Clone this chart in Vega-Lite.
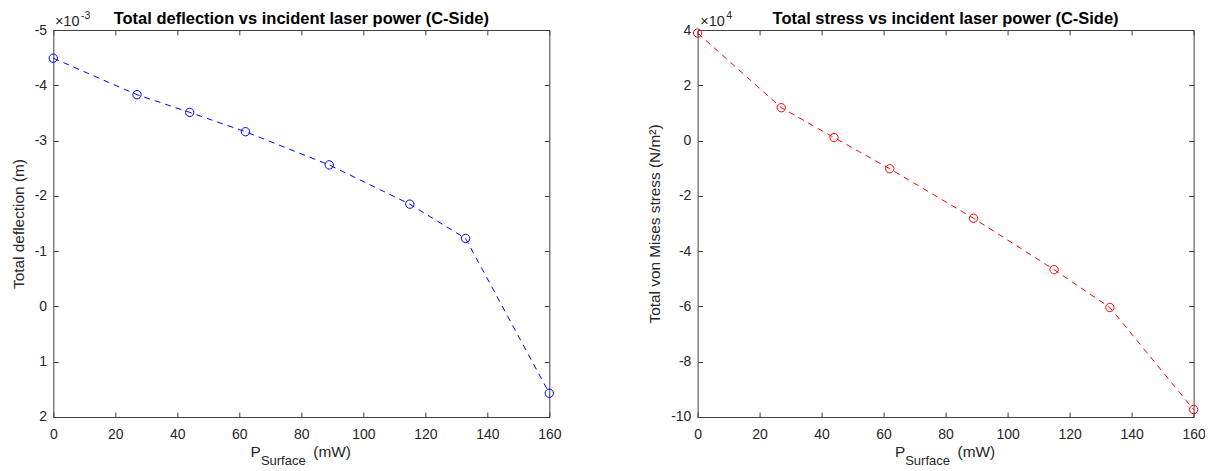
{
  "$schema": "https://vega.github.io/schema/vega-lite/v6.json",
  "background": "white",
  "padding": {"left": 10.3, "top": 10, "right": 0, "bottom": 0},
  "spacing": 86.3,
  "datasets": {
    "runs": [
      {"power": 0, "deflection": -4.49, "stress": 3.89},
      {"power": 27, "deflection": -3.83, "stress": 1.19},
      {"power": 44, "deflection": -3.51, "stress": 0.11},
      {"power": 62, "deflection": -3.16, "stress": -1.02},
      {"power": 89, "deflection": -2.56, "stress": -2.81},
      {"power": 115, "deflection": -1.85, "stress": -4.67},
      {"power": 133, "deflection": -1.23, "stress": -6.04},
      {"power": 160, "deflection": 1.57, "stress": -9.73}
    ],
    "one": [{"k": 1}]
  },
  "config": {
    "view": {"stroke": null},
    "font": "Liberation Sans",
    "axis": {
      "domainColor": "#404040",
      "domainWidth": 1,
      "tickColor": "#404040",
      "tickWidth": 1,
      "tickSize": -5,
      "labelColor": "#262626",
      "labelFont": "Liberation Sans",
      "labelFontSize": 14,
      "labelFlush": false,
      "titleColor": "#262626",
      "titleFont": "Liberation Sans",
      "titleFontSize": 15.4,
      "titleFontWeight": "normal",
      "grid": false,
      "labelExpr": "datum.value < 0 ? '-' + abs(datum.value) : '' + datum.value"
    },
    "axisBottom": {"labelPadding": 16},
    "axisLeft": {"labelPadding": 11.7, "titlePadding": 8},
    "title": {"font": "Liberation Sans", "fontSize": 16.5, "fontWeight": "bold", "color": "#000000", "anchor": "middle", "frame": "group", "baseline": "alphabetic", "offset": -16}
  },
  "hconcat": [
    {
      "width": 496,
      "height": 387,
      "title": "Total deflection vs incident laser power (C-Side)",
      "layer": [
        {
          "data": {"name": "runs"},
          "mark": {"type": "line", "color": "#0000ff", "strokeDash": [6, 5], "strokeWidth": 1},
          "encoding": {
            "x": {"field": "power", "type": "quantitative", "scale": {"domain": [0, 160], "nice": false, "zero": false},
                  "axis": {"orient": "bottom", "values": [0, 20, 40, 60, 80, 100, 120, 140, 160], "title": null}},
            "y": {"field": "deflection", "type": "quantitative", "scale": {"domain": [-5, 2], "reverse": true, "nice": false, "zero": false},
                  "axis": {"orient": "left", "values": [-5, -4, -3, -2, -1, 0, 1, 2], "title": "Total deflection (m)"}}
          }
        },
        {
          "data": {"name": "runs"},
          "mark": {"type": "point", "shape": "circle", "filled": false, "color": "#0000ff", "size": 70, "strokeWidth": 1, "opacity": 1},
          "encoding": {
            "x": {"field": "power", "type": "quantitative",
                  "axis": {"orient": "top", "values": [0, 20, 40, 60, 80, 100, 120, 140, 160], "labels": false, "title": null}},
            "y": {"field": "deflection", "type": "quantitative",
                  "axis": {"orient": "right", "values": [-5, -4, -3, -2, -1, 0, 1, 2], "labels": false, "title": null}}
          }
        },
        {
          "data": {"name": "one"},
          "mark": {"type": "text", "text": "×10", "align": "left", "baseline": "alphabetic", "fontSize": 14.5, "color": "#262626", "dx": 1.6, "dy": -4.3},
          "encoding": {"x": {"datum": 0, "type": "quantitative", "axis": null}, "y": {"datum": -5, "type": "quantitative", "axis": null}}
        },
        {
          "data": {"name": "one"},
          "mark": {"type": "text", "text": "-3", "align": "left", "baseline": "alphabetic", "fontSize": 10.5, "color": "#262626", "dx": 27.8, "dy": -11},
          "encoding": {"x": {"datum": 0, "type": "quantitative", "axis": null}, "y": {"datum": -5, "type": "quantitative", "axis": null}}
        },
        {
          "data": {"name": "one"},
          "mark": {"type": "text", "text": "P", "align": "left", "baseline": "alphabetic", "fontSize": 15.4, "color": "#262626", "dx": -50.7, "dy": 40},
          "encoding": {"x": {"datum": 80, "type": "quantitative", "axis": null}, "y": {"datum": 2, "type": "quantitative", "axis": null}}
        },
        {
          "data": {"name": "one"},
          "mark": {"type": "text", "text": "Surface", "align": "left", "baseline": "alphabetic", "fontSize": 13, "color": "#262626", "dx": -40.4, "dy": 48.3},
          "encoding": {"x": {"datum": 80, "type": "quantitative", "axis": null}, "y": {"datum": 2, "type": "quantitative", "axis": null}}
        },
        {
          "data": {"name": "one"},
          "mark": {"type": "text", "text": "(mW)", "align": "left", "baseline": "alphabetic", "fontSize": 15.4, "color": "#262626", "dx": 12, "dy": 40},
          "encoding": {"x": {"datum": 80, "type": "quantitative", "axis": null}, "y": {"datum": 2, "type": "quantitative", "axis": null}}
        }
      ],
      "resolve": {"axis": {"x": "independent", "y": "independent"}}
    },
    {
      "width": 496,
      "height": 387,
      "title": "Total stress vs incident laser power (C-Side)",
      "layer": [
        {
          "data": {"name": "runs"},
          "mark": {"type": "line", "color": "#ff0000", "strokeDash": [6, 5], "strokeWidth": 1},
          "encoding": {
            "x": {"field": "power", "type": "quantitative", "scale": {"domain": [0, 160], "nice": false, "zero": false},
                  "axis": {"orient": "bottom", "values": [0, 20, 40, 60, 80, 100, 120, 140, 160], "title": null}},
            "y": {"field": "stress", "type": "quantitative", "scale": {"domain": [-10, 4], "nice": false, "zero": false},
                  "axis": {"orient": "left", "values": [-10, -8, -6, -4, -2, 0, 2, 4], "title": "Total von Mises stress (N/m²)"}}
          }
        },
        {
          "data": {"name": "runs"},
          "mark": {"type": "point", "shape": "circle", "filled": false, "color": "#ff0000", "size": 70, "strokeWidth": 1, "opacity": 1},
          "encoding": {
            "x": {"field": "power", "type": "quantitative",
                  "axis": {"orient": "top", "values": [0, 20, 40, 60, 80, 100, 120, 140, 160], "labels": false, "title": null}},
            "y": {"field": "stress", "type": "quantitative",
                  "axis": {"orient": "right", "values": [-10, -8, -6, -4, -2, 0, 2, 4], "labels": false, "title": null}}
          }
        },
        {
          "data": {"name": "one"},
          "mark": {"type": "text", "text": "×10", "align": "left", "baseline": "alphabetic", "fontSize": 14.5, "color": "#262626", "dx": 2.7, "dy": -4.3},
          "encoding": {"x": {"datum": 0, "type": "quantitative", "axis": null}, "y": {"datum": 4, "type": "quantitative", "axis": null}}
        },
        {
          "data": {"name": "one"},
          "mark": {"type": "text", "text": "4", "align": "left", "baseline": "alphabetic", "fontSize": 10.5, "color": "#262626", "dx": 28.6, "dy": -11},
          "encoding": {"x": {"datum": 0, "type": "quantitative", "axis": null}, "y": {"datum": 4, "type": "quantitative", "axis": null}}
        },
        {
          "data": {"name": "one"},
          "mark": {"type": "text", "text": "P", "align": "left", "baseline": "alphabetic", "fontSize": 15.4, "color": "#262626", "dx": -50.7, "dy": 40},
          "encoding": {"x": {"datum": 80, "type": "quantitative", "axis": null}, "y": {"datum": -10, "type": "quantitative", "axis": null}}
        },
        {
          "data": {"name": "one"},
          "mark": {"type": "text", "text": "Surface", "align": "left", "baseline": "alphabetic", "fontSize": 13, "color": "#262626", "dx": -40.4, "dy": 48.3},
          "encoding": {"x": {"datum": 80, "type": "quantitative", "axis": null}, "y": {"datum": -10, "type": "quantitative", "axis": null}}
        },
        {
          "data": {"name": "one"},
          "mark": {"type": "text", "text": "(mW)", "align": "left", "baseline": "alphabetic", "fontSize": 15.4, "color": "#262626", "dx": 12, "dy": 40},
          "encoding": {"x": {"datum": 80, "type": "quantitative", "axis": null}, "y": {"datum": -10, "type": "quantitative", "axis": null}}
        }
      ],
      "resolve": {"axis": {"x": "independent", "y": "independent"}}
    }
  ]
}
